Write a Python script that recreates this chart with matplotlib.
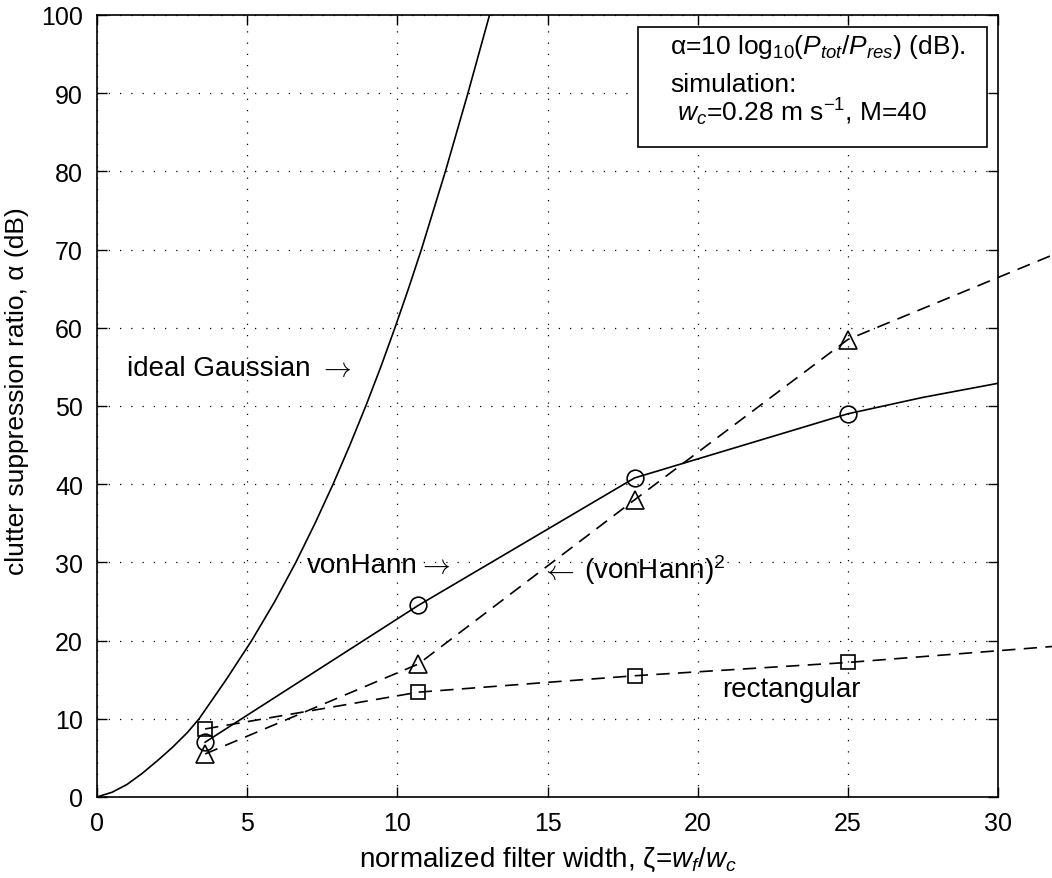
import matplotlib
matplotlib.use("Agg")
import matplotlib.pyplot as plt
from matplotlib.patches import Rectangle

plt.rcParams['font.family'] = ['Liberation Sans', 'DejaVu Sans']
plt.rcParams['mathtext.fontset'] = 'custom'
plt.rcParams['mathtext.rm'] = 'Liberation Sans'
plt.rcParams['mathtext.it'] = 'Liberation Sans:italic'
plt.rcParams['mathtext.bf'] = 'Liberation Sans:bold'

# ideal Gaussian filter curve
gauss_x = [0, 0.5, 1.0, 1.5, 2.0, 2.5, 3.0, 3.4, 4.3, 5.15, 5.92, 6.62, 7.26,
           7.86, 8.42, 8.95, 9.45, 9.92, 10.37, 10.8, 11.6, 12.35, 13.07]
gauss_y = [0, 0.6, 1.6, 3.0, 4.6, 6.3, 8.2, 10, 15, 20, 25, 30, 35,
           40, 45, 50, 55, 60, 65, 70, 80, 90, 100]

# simulated filter widths
zeta = [3.6, 10.7, 17.9, 25.0]

# vonHann (solid line continues to the axis edge)
hann_x = [3.6, 10.7, 17.9, 25.0, 27.5, 30.0]
hann_y = [7.0, 24.5, 40.8, 49.0, 51.1, 52.9]
hann_pts = [7.0, 24.5, 40.8, 49.0]

# (vonHann)^2
hann2_x = [3.6, 10.7, 17.9, 25.0, 32.0]
hann2_y = [5.5, 17.0, 38.0, 58.5, 69.6]
hann2_pts = [5.5, 17.0, 38.0, 58.5]

# rectangular
rect_x = [3.6, 10.7, 17.9, 25.0, 32.0]
rect_y = [8.7, 13.4, 15.5, 17.2, 19.3]
rect_pts = [8.7, 13.4, 15.5, 17.2]

fig = plt.figure(figsize=(10.52, 8.79), dpi=100)
ax = fig.add_axes([0.0922, 0.0922, 0.8565, 0.8896])

fs = 20
dash = (0, (8, 5))
ax.plot(gauss_x, gauss_y, color='k', lw=1.2)
ax.plot(hann_x, hann_y, color='k', lw=1.2)
ax.plot(hann2_x, hann2_y, color='k', lw=1.2, linestyle=dash, clip_on=False)
ax.plot(rect_x, rect_y, color='k', lw=1.2, linestyle=dash, clip_on=False)

ax.plot(zeta, hann_pts, 'o', ms=12, mfc='none', mec='k', mew=1.2)
ax.plot(zeta, hann2_pts, '^', ms=13, mfc='none', mec='k', mew=1.2)
ax.plot(zeta, rect_pts, 's', ms=10, mfc='none', mec='k', mew=1.2)

ax.set_xlim(0, 30)
ax.set_ylim(0, 100)
ax.set_xticks(range(0, 31, 5))
ax.set_yticks(range(0, 101, 10))
ax.tick_params(direction='in', top=True, right=True, length=7, width=1,
               labelsize=18)
ax.tick_params(axis='x', pad=10)
ax.tick_params(axis='y', pad=10)
ax.grid(True, color='k', linestyle=(0, (1, 8)), lw=0.9)
for s in ax.spines.values():
    s.set_linewidth(1.2)

ax.set_xlabel(r'normalized filter width, ζ=$w_f$/$w_c$', fontsize=fs, labelpad=7)
ax.set_ylabel('clutter suppression ratio, α (dB)', fontsize=19)
ax.yaxis.set_label_coords(-0.075, 0.52)

# curve labels, with TeX style arrows
t1 = ax.text(1.0, 54.8, 'ideal Gaussian', fontsize=fs, va='center', ha='left')
ax.annotate(r'$\rightarrow$', xy=(1, 0.5), xycoords=t1, xytext=(6, 0),
            textcoords='offset points', fontsize=fs, va='center', ha='left',
            math_fontfamily='cm')
t2 = ax.text(7.0, 29.7, 'vonHann', fontsize=fs, va='center', ha='left')
ax.annotate(r'$\rightarrow$', xy=(1, 0.5), xycoords=t2, xytext=(0, 0),
            textcoords='offset points', fontsize=fs, va='center', ha='left',
            math_fontfamily='cm')
t3 = ax.text(16.2, 29.2, r'(vonHann)$^2$', fontsize=fs, va='center', ha='left')
ax.annotate(r'$\leftarrow$', xy=(0, 0.42), xycoords=t3, xytext=(-6, 0),
            textcoords='offset points', fontsize=fs, va='center', ha='right',
            math_fontfamily='cm')
ax.text(20.8, 13.8, 'rectangular', fontsize=fs, va='center', ha='left')

ax.add_patch(Rectangle((0.600, 0.831), 0.388, 0.154, transform=ax.transAxes,
                       facecolor='white', edgecolor='k', lw=1.2, zorder=5))
ax.text(0.636, 0.960, r'α=10 log$_{10}$($P_{tot}$/$P_{res}$) (dB).',
        transform=ax.transAxes, fontsize=19, va='center', zorder=6)
ax.text(0.636, 0.912, 'simulation:', transform=ax.transAxes, fontsize=19,
        va='center', zorder=6)
ax.text(0.636, 0.877, r' $w_c$=0.28 m s$^{-1}$, M=40', transform=ax.transAxes,
        fontsize=19, va='center', zorder=6)

fig.savefig('out.png', dpi=100)
